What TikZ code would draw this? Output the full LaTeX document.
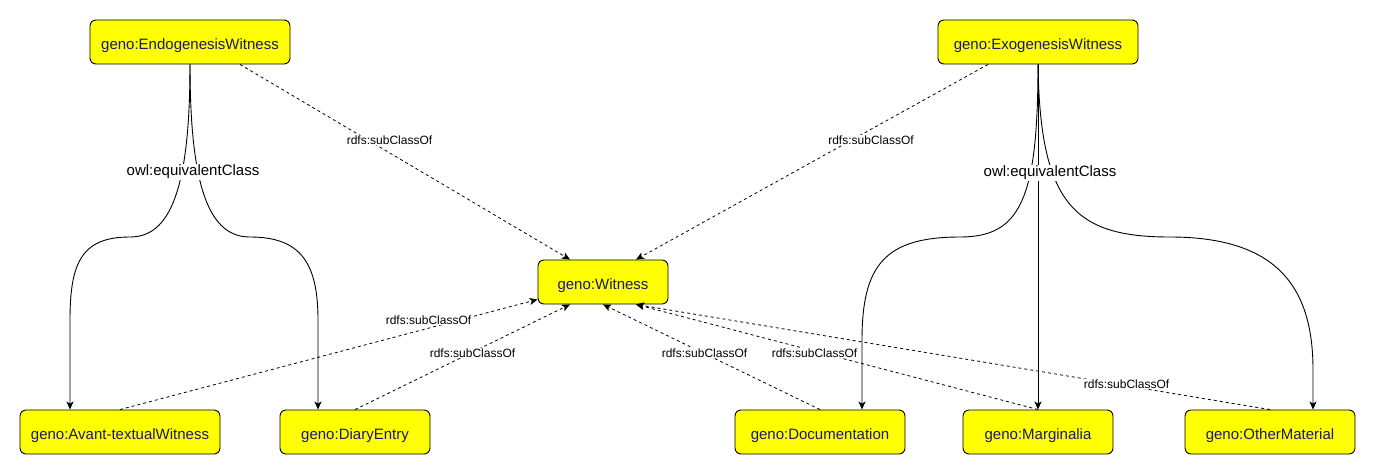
\documentclass[tikz,border=0pt]{standalone}
\usepackage{fontspec}
\setmainfont{Liberation Sans}
\usetikzlibrary{arrows.meta}
\definecolor{classfill}{RGB}{255,255,0}
\definecolor{classtext}{RGB}{24,24,120}
\begin{document}
\begin{tikzpicture}[x=1pt,y=-1pt,
  cls/.style={draw=black, line width=0.9pt, fill=classfill, rounded corners=6pt,
    minimum height=44pt, inner sep=0pt, text height=14pt, text depth=0pt,
    text=classtext, font=\fontsize{15}{18}\selectfont},
  sub/.style={draw=black, line width=0.8pt, dash pattern=on 3pt off 3pt,
    -{Stealth[length=8pt,width=7pt,inset=2pt]}},
  eqv/.style={draw=black, line width=0.9pt,
    -{Stealth[length=8pt,width=7pt,inset=2pt]}},
  elab/.style={fill=white, inner sep=1pt, text=black, font=\fontsize{12}{14}\selectfont},
  eqlab/.style={fill=white, inner sep=1pt, text=black, font=\fontsize{15}{18}\selectfont}]
\useasboundingbox (0,0) rectangle (1376,475);

% classes
\node[cls, minimum width=200pt] (endo)  at (190,42)  {geno:EndogenesisWitness};
\node[cls, minimum width=200pt] (exo)   at (1038,42) {geno:ExogenesisWitness};
\node[cls, minimum width=130pt] (wit)   at (603,282) {geno:Witness};
\node[cls, minimum width=200pt] (avant) at (120,432) {geno:Avant-textualWitness};
\node[cls, minimum width=150pt] (diary) at (355,432) {geno:DiaryEntry};
\node[cls, minimum width=170pt] (doc)   at (820,432) {geno:Documentation};
\node[cls, minimum width=150pt] (marg)  at (1038,432) {geno:Marginalia};
\node[cls, minimum width=170pt] (other) at (1270,432) {geno:OtherMaterial};

% owl:equivalentClass, left group
\draw[eqv] (endo.south) .. controls (190,190) and (170,237) .. (130,237)
  .. controls (82,237) and (70,262) .. (70,320) -- ([xshift=-50pt]avant.north);
\draw[eqv] (endo.south) .. controls (190,190) and (210,237) .. (250,237)
  .. controls (300,237) and (318,262) .. (318,320) -- ([xshift=-37pt]diary.north);
\node[eqlab] (eqL) at (193,172) {owl:equivalentClass};

% owl:equivalentClass, right group
\draw[eqv] (exo.south) .. controls (1038,200) and (1020,237) .. (960,237)
  .. controls (885,237) and (862,265) .. (862,340) -- ([xshift=42pt]doc.north);
\draw[eqv] (exo.south) -- (marg.north);
\draw[eqv] (exo.south) .. controls (1040,205) and (1075,237) .. (1170,237)
  .. controls (1280,237) and (1313,290) .. (1313,370) -- ([xshift=43pt]other.north);
\node[eqlab] (eqR) at (1050,173) {owl:equivalentClass};

% rdfs:subClassOf
\draw[sub] ([xshift=50pt]endo.south) -- ([xshift=-33pt]wit.north);
\draw[sub] ([xshift=-50pt]exo.south) -- ([xshift=33pt]wit.north);
\draw[sub] (avant.north) -- ([yshift=5pt]wit.south west);
\draw[sub] (diary.north) -- ([xshift=-33pt]wit.south);
\draw[sub] (doc.north) -- (wit.south);
\draw[sub] (marg.north) -- ([xshift=33pt]wit.south);
\draw[sub] (other.north) -- ([xshift=33pt]wit.south);

% labels of the subclass links
\node[elab] (lEndo)  at (389.5,140) {rdfs:subClassOf};
\node[elab] (lExo)   at (871,140)   {rdfs:subClassOf};
\node[elab] (lAvant) at (428.5,320) {rdfs:subClassOf};
\node[elab] (lDiary) at (472.5,353) {rdfs:subClassOf};
\node[elab] (lDoc)   at (704.5,353) {rdfs:subClassOf};
\node[elab] (lMarg)  at (814.5,353) {rdfs:subClassOf};
\node[elab] (lOther) at (1126.5,384) {rdfs:subClassOf};
\end{tikzpicture}
\end{document}
